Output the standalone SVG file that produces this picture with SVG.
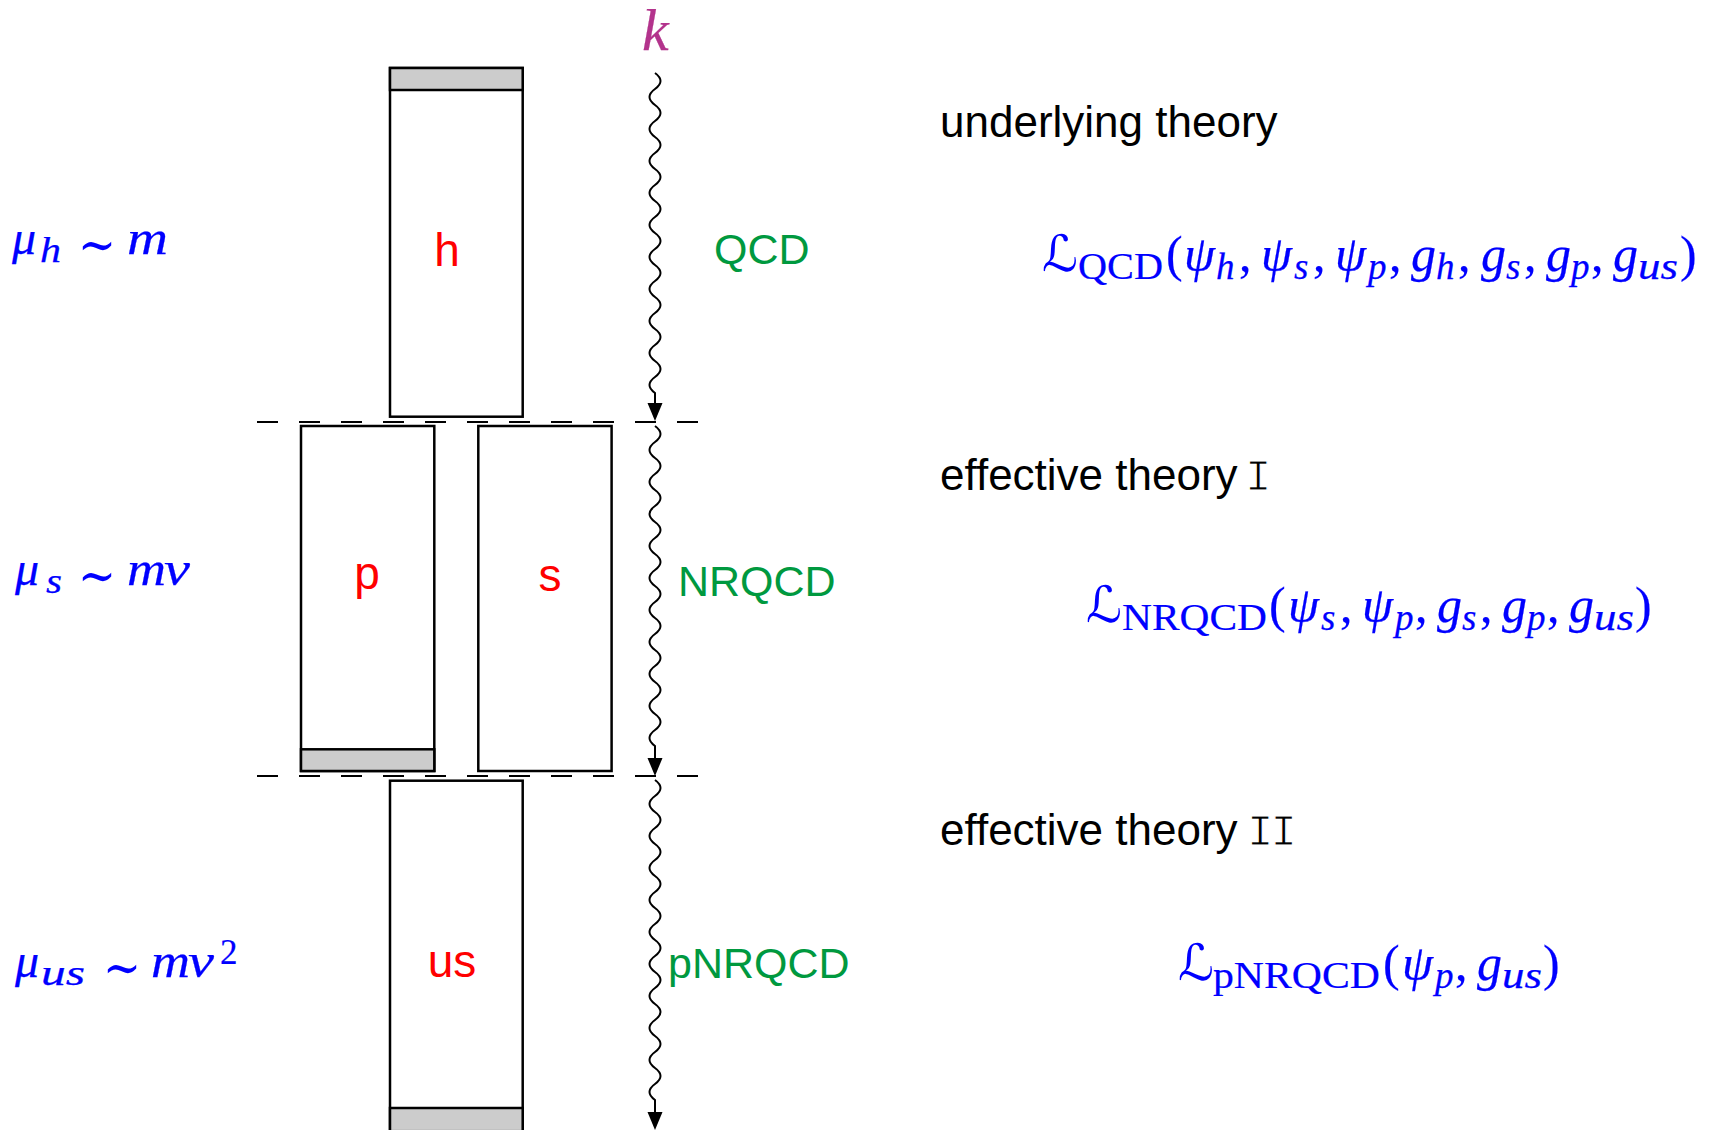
<svg xmlns="http://www.w3.org/2000/svg" width="1716" height="1130" viewBox="0 0 1716 1130">
<style>
.box{fill:#fff;stroke:#000;stroke-width:2.5}
.band{fill:#cccccc;stroke:#000;stroke-width:2.5}
.lbl{font-family:"Liberation Sans",Arial,sans-serif;font-size:46px;fill:#ff0000;text-anchor:middle}
.eft{font-family:"Liberation Sans",Arial,sans-serif;font-size:43px;fill:#00993f}
.th{font-family:"Liberation Sans",Arial,sans-serif;font-size:44px;fill:#000}
.mono{font-family:"Liberation Mono","DejaVu Sans Mono",monospace;font-size:44px;fill:#000;stroke:#fff;stroke-width:1.2}
.mi{font-family:"Liberation Serif","DejaVu Serif",serif;font-style:italic;fill:#0000ff;stroke:#0000ff;stroke-width:0.25}
.rm{font-family:"Liberation Serif","DejaVu Serif",serif;fill:#0000ff;stroke:#0000ff;stroke-width:0.2}
.sim{font-family:"DejaVu Serif","Liberation Serif",serif;font-size:54px;fill:#0000ff}
.cal{font-family:"DejaVu Serif","DejaVu Sans",serif;font-style:italic;fill:#0000ff}
.big{font-size:50px}
.sub{font-size:37px}
.lm{font-size:48px}
.ls{font-size:35px}
.wave{fill:none;stroke:#000;stroke-width:2}
.dash{stroke:#000;stroke-width:2;stroke-dasharray:21 21}
</style>

<g id="connectors">
  <line class="dash" x1="257" y1="422" x2="700" y2="422"/>
  <line class="dash" x1="257" y1="776" x2="700" y2="776"/>
  <path class="wave" d="M655,73 q11,8 0,16 t0,16 t0,16 t0,16 t0,16 t0,16 t0,16 t0,16 t0,16 t0,16 t0,16 t0,16 t0,16 t0,16 t0,16 t0,16 t0,16 t0,16 t0,16 t0,16 L655,405"/>
  <polygon points="655,421 647.5,403 662.5,403" fill="#000"/>
  <path class="wave" d="M655,426 q11,8 0,16 t0,16 t0,16 t0,16 t0,16 t0,16 t0,16 t0,16 t0,16 t0,16 t0,16 t0,16 t0,16 t0,16 t0,16 t0,16 t0,16 t0,16 t0,16 t0,16 L655,760"/>
  <polygon points="655,776 647.5,758 662.5,758" fill="#000"/>
  <path class="wave" d="M655,780 q11,8 0,16 t0,16 t0,16 t0,16 t0,16 t0,16 t0,16 t0,16 t0,16 t0,16 t0,16 t0,16 t0,16 t0,16 t0,16 t0,16 t0,16 t0,16 t0,16 t0,16 L655,1114"/>
  <polygon points="655,1130 647.5,1112 662.5,1112" fill="#000"/>
</g>

<g id="node-h">
  <rect class="box" x="390" y="68" width="132.7" height="348.7"/>
  <rect class="band" x="390" y="68" width="132.7" height="22"/>
  <text class="lbl" x="447" y="266">h</text>
</g>
<g id="node-p">
  <rect class="box" x="301" y="426" width="133.3" height="345"/>
  <rect class="band" x="301" y="749.3" width="133.3" height="21.7"/>
  <text class="lbl" x="367" y="589">p</text>
</g>
<g id="node-s">
  <rect class="box" x="478.3" y="426" width="133.3" height="345"/>
  <text class="lbl" x="550" y="591">s</text>
</g>
<g id="node-us">
  <rect class="box" x="390" y="780.7" width="132.7" height="350.5"/>
  <rect class="band" x="390" y="1108" width="132.7" height="23.2"/>
  <text class="lbl" x="452" y="977">us</text>
</g>

<g id="axis-k">
  <text class="mi" x="642" y="50" style="font-size:60px;fill:#b3338c;stroke:#b3338c">k</text>
</g>

<g id="eft-labels">
  <text class="eft" x="714" y="264">QCD</text>
  <text class="eft" x="678" y="596">NRQCD</text>
  <text class="eft" x="668" y="978">pNRQCD</text>
</g>

<g id="theory-labels">
  <text class="th" x="940" y="137">underlying theory</text>
  <text class="th" x="940" y="490">effective theory</text>
  <text class="mono" x="1245" y="490">I</text>
  <text class="th" x="940" y="845">effective theory</text>
  <text class="mono" x="1247" y="845" letter-spacing="-3">II</text>
</g>

<g id="scales">
  <text class="mi lm" x="12" y="254">μ</text>
  <text class="mi ls" x="40" y="262" textLength="21" lengthAdjust="spacingAndGlyphs">h</text>
  <text class="sim" x="78" y="263" textLength="38" lengthAdjust="spacingAndGlyphs">∼</text>
  <text class="mi lm" x="127" y="254" textLength="41" lengthAdjust="spacingAndGlyphs">m</text>

  <text class="mi lm" x="15" y="585">μ</text>
  <text class="mi ls" x="46" y="593" textLength="16" lengthAdjust="spacingAndGlyphs">s</text>
  <text class="sim" x="78" y="594" textLength="38" lengthAdjust="spacingAndGlyphs">∼</text>
  <text class="mi lm" x="127" y="585" textLength="39" lengthAdjust="spacingAndGlyphs">m</text>
  <text class="mi lm" x="164" y="585" textLength="26" lengthAdjust="spacingAndGlyphs">v</text>

  <text class="mi lm" x="15" y="977">μ</text>
  <text class="mi ls" x="41" y="985" textLength="44" lengthAdjust="spacingAndGlyphs">us</text>
  <text class="sim" x="103" y="986" textLength="38" lengthAdjust="spacingAndGlyphs">∼</text>
  <text class="mi lm" x="151" y="977" textLength="39" lengthAdjust="spacingAndGlyphs">m</text>
  <text class="mi lm" x="188" y="977" textLength="26" lengthAdjust="spacingAndGlyphs">v</text>
  <text class="rm ls" x="220" y="964">2</text>
</g>

<g id="lagrangian-qcd">
  <text class="cal big" x="1042" y="271">ℒ</text>
  <text class="rm sub" x="1078" y="279" textLength="85" lengthAdjust="spacingAndGlyphs">QCD</text>
  <text class="rm big" x="1166" y="271">(</text>
  <text class="mi big" x="1184" y="271">ψ</text><text class="mi sub" x="1216" y="279">h</text><text class="rm big" x="1239" y="271">,</text>
  <text class="mi big" x="1261" y="271">ψ</text><text class="mi sub" x="1294" y="279">s</text><text class="rm big" x="1313" y="271">,</text>
  <text class="mi big" x="1335" y="271">ψ</text><text class="mi sub" x="1368" y="279">p</text><text class="rm big" x="1389" y="271">,</text>
  <text class="mi big" x="1411" y="271">g</text><text class="mi sub" x="1436" y="279">h</text><text class="rm big" x="1458" y="271">,</text>
  <text class="mi big" x="1481" y="271">g</text><text class="mi sub" x="1506" y="279">s</text><text class="rm big" x="1524" y="271">,</text>
  <text class="mi big" x="1546" y="271">g</text><text class="mi sub" x="1571" y="279">p</text><text class="rm big" x="1591" y="271">,</text>
  <text class="mi big" x="1613" y="271">g</text><text class="mi sub" x="1638" y="279" textLength="40" lengthAdjust="spacingAndGlyphs">us</text>
  <text class="rm big" x="1680" y="271">)</text>
</g>

<g id="lagrangian-nrqcd">
  <text class="cal big" x="1086" y="622">ℒ</text>
  <text class="rm sub" x="1122" y="630" textLength="145" lengthAdjust="spacingAndGlyphs">NRQCD</text>
  <text class="rm big" x="1269" y="622">(</text>
  <text class="mi big" x="1288" y="622">ψ</text><text class="mi sub" x="1321" y="630">s</text><text class="rm big" x="1340" y="622">,</text>
  <text class="mi big" x="1362" y="622">ψ</text><text class="mi sub" x="1395" y="630">p</text><text class="rm big" x="1415" y="622">,</text>
  <text class="mi big" x="1437" y="622">g</text><text class="mi sub" x="1462" y="630">s</text><text class="rm big" x="1480" y="622">,</text>
  <text class="mi big" x="1502" y="622">g</text><text class="mi sub" x="1527" y="630">p</text><text class="rm big" x="1547" y="622">,</text>
  <text class="mi big" x="1569" y="622">g</text><text class="mi sub" x="1594" y="630" textLength="40" lengthAdjust="spacingAndGlyphs">us</text>
  <text class="rm big" x="1635" y="622">)</text>
</g>

<g id="lagrangian-pnrqcd">
  <text class="cal big" x="1178" y="980">ℒ</text>
  <text class="rm sub" x="1213" y="988" textLength="167" lengthAdjust="spacingAndGlyphs">pNRQCD</text>
  <text class="rm big" x="1383" y="980">(</text>
  <text class="mi big" x="1402" y="980">ψ</text><text class="mi sub" x="1435" y="988">p</text><text class="rm big" x="1455" y="980">,</text>
  <text class="mi big" x="1477" y="980">g</text><text class="mi sub" x="1502" y="988" textLength="40" lengthAdjust="spacingAndGlyphs">us</text>
  <text class="rm big" x="1543" y="980">)</text>
</g>
</svg>
